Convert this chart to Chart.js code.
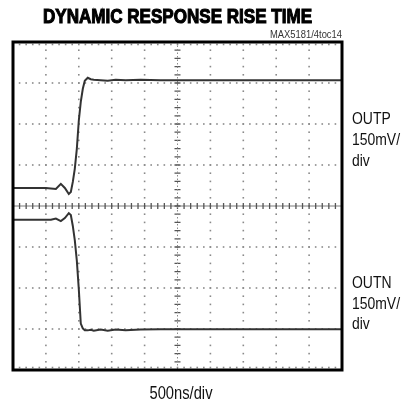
<!DOCTYPE html>
<html>
<head>
<meta charset="utf-8">
<script src="https://cdn.jsdelivr.net/npm/chart.js@4.4.1/dist/chart.umd.min.js"></script>
<style>
html,body{margin:0;padding:0;background:#fff;}
#wrap{width:401px;height:404px;position:relative;}
</style>
</head>
<body>
<div id="wrap"><canvas id="c" width="401" height="404"></canvas></div>
<script>
// ---- data (time in ns, voltage in mV; 500 ns/div, 150 mV/div) ----
const timeNs = [0, 500, 576, 652, 727, 788, 848, 879, 909, 939, 970, 1000, 1030, 1061, 1091, 1136, 1182, 1227, 1333, 1439, 1561, 1712, 1939, 2242, 2848, 5000];
const outpMv = [66, 66, 64, 62, 81, 66, 44, 51, 88, 136, 209, 312, 381, 429, 458, 469, 464, 462, 460, 458, 462, 460, 462, 460, 460, 460];
const outnMv = [-50, -50, -50, -46, -55, -44, -26, -33, -73, -125, -200, -304, -430, -448, -455, -455, -453, -456, -452, -456, -452, -455, -452, -451, -451, -451];

const titleText = "DYNAMIC RESPONSE RISE TIME";
const subText = "MAX5181/4toc14";
const xLabel = "500ns/div";
const outpLabel = ["OUTP", "150mV/", "div"];
const outnLabel = ["OUTN", "150mV/", "div"];

const xDivs = [0,500,1000,1500,2000,2500,3000,3500,4000,4500,5000];
const yDivs = [-600,-450,-300,-150,0,150,300,450,600];

const toPts = (ys) => timeNs.map((t, i) => ({x: t, y: ys[i]}));

const FAM = '"Liberation Sans", Arial, Helvetica, sans-serif';

function narrowText(ctx, s, x, y, font, align, sx, stroke) {
  ctx.save();
  ctx.font = font;
  ctx.textAlign = align;
  ctx.translate(x, y);
  ctx.scale(sx, 1);
  ctx.fillText(s, 0, 0);
  if (stroke) { ctx.lineWidth = stroke; ctx.strokeText(s, 0, 0); }
  ctx.restore();
}
function fitScale(ctx, s, font, width) {
  ctx.save(); ctx.font = font;
  const w = ctx.measureText(s).width;
  ctx.restore();
  return width / w;
}

const graticule = {
  id: 'graticule',
  beforeDatasetsDraw(chart) {
    const {ctx, chartArea: a, scales: {x, y}} = chart;
    ctx.save();
    ctx.fillStyle = '#8a8a8a';
    const d = 1.6;
    yDivs.forEach(v => {
      if (v === 0 || v === -600 || v === 600) return;
      const py = y.getPixelForValue(v);
      for (let t = 0; t <= 5000; t += 100) {
        const px = x.getPixelForValue(t);
        ctx.fillRect(px - d/2, py - d/2, d, d);
      }
    });
    xDivs.forEach(v => {
      if (v === 2500 || v === 0 || v === 5000) return;
      const px = x.getPixelForValue(v);
      for (let m = -600; m <= 600; m += 30) {
        const py = y.getPixelForValue(m);
        ctx.fillRect(px - d/2, py - d/2, d, d);
      }
    });
    for (let t = 0; t <= 5000; t += 100) {
      const px = x.getPixelForValue(t);
      ctx.fillRect(px - d/2, a.top + 2.5 - d/2, d, d);
      ctx.fillRect(px - d/2, a.bottom - 2.5 - d/2, d, d);
    }
    const cy = y.getPixelForValue(0);
    const cx = x.getPixelForValue(2500);
    ctx.strokeStyle = '#7a7a7a';
    ctx.lineWidth = 1;
    ctx.beginPath();
    ctx.moveTo(a.left, cy); ctx.lineTo(a.right, cy);
    ctx.stroke();
    ctx.strokeStyle = '#555';
    ctx.lineWidth = 1.3;
    ctx.beginPath();
    for (let t = 0; t <= 5000; t += 100) {
      const px = x.getPixelForValue(t);
      ctx.moveTo(px, cy - 3); ctx.lineTo(px, cy + 3);
    }
    for (let m = -600; m <= 600; m += 30) {
      const py = y.getPixelForValue(m);
      ctx.moveTo(cx - 3, py); ctx.lineTo(cx + 3, py);
    }
    ctx.stroke();
    ctx.strokeStyle = '#8a8a8a';
    ctx.lineWidth = 1;
    ctx.setLineDash([1.5, 2]);
    ctx.beginPath();
    ctx.moveTo(cx, a.top); ctx.lineTo(cx, a.bottom);
    ctx.stroke();
    ctx.restore();
  },
  afterDraw(chart) {
    const {ctx, chartArea: a} = chart;
    ctx.save();
    ctx.strokeStyle = '#000';
    ctx.lineWidth = 3;
    ctx.strokeRect(a.left, a.top, a.right - a.left, a.bottom - a.top);
    ctx.fillStyle = '#000';
    ctx.strokeStyle = '#000';
    ctx.textBaseline = 'alphabetic';
    const tf = 'bold 20px ' + FAM;
    narrowText(ctx, titleText, 177.5, 23, tf, 'center', fitScale(ctx, titleText, tf, 269), 1.1);
    ctx.fillStyle = '#333';
    const sf = '10.5px ' + FAM;
    narrowText(ctx, subText, a.right, 38, sf, 'right', fitScale(ctx, subText, sf, 72));
    ctx.fillStyle = '#111';
    const lf = '17px ' + FAM;
    const sx = 0.82;
    outpLabel.forEach((s, i) => narrowText(ctx, s, 352, 124 + i * 21, lf, 'left', sx));
    outnLabel.forEach((s, i) => narrowText(ctx, s, 352, 288 + i * 20.5, lf, 'left', sx));
    const xf = '18px ' + FAM;
    narrowText(ctx, xLabel, 181, 399, xf, 'center', fitScale(ctx, xLabel, xf, 63));
    ctx.restore();
  }
};

new Chart(document.getElementById('c'), {
  type: 'line',
  data: {
    datasets: [
      {label: 'OUTP', data: toPts(outpMv), borderColor: '#333', borderWidth: 2, pointRadius: 0, tension: 0},
      {label: 'OUTN', data: toPts(outnMv), borderColor: '#333', borderWidth: 2, pointRadius: 0, tension: 0}
    ]
  },
  options: {
    responsive: false,
    animation: false,
    devicePixelRatio: 1,
    layout: {padding: {left: 13, top: 42, right: 59, bottom: 34}},
    plugins: {legend: {display: false}, tooltip: {enabled: false}, title: {display: false}},
    scales: {
      x: {type: 'linear', min: 0, max: 5000, display: false},
      y: {type: 'linear', min: -600, max: 600, display: false}
    }
  },
  plugins: [graticule]
});
</script>
</body>
</html>
